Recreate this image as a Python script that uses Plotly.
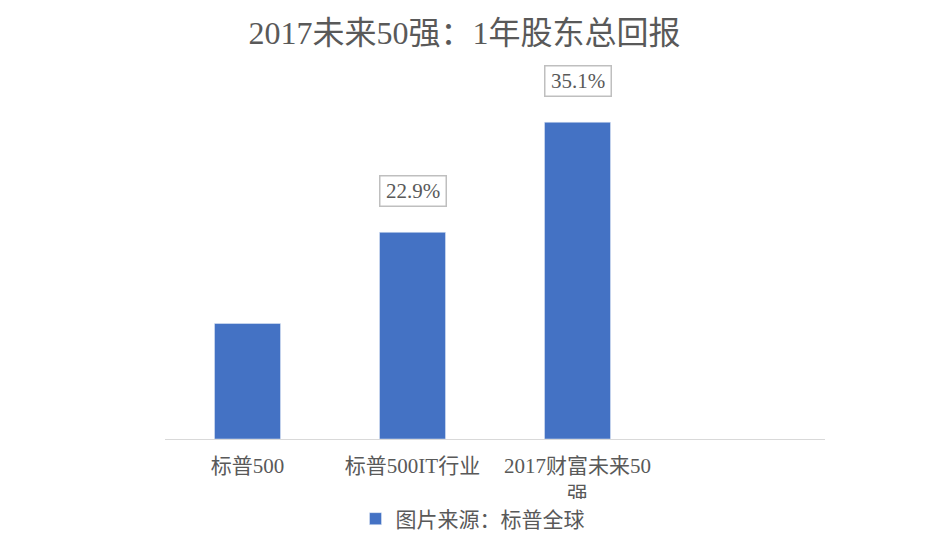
import plotly.graph_objects as go

categories = ["标普500", "标普500IT行业", "2017财富未来50<br>强"]
values = [12.8, 22.9, 35.1]
label_texts = [None, "22.9%", "35.1%"]
series_name = "图片来源：标普全球"
title_text = "2017未来50强：1年股东总回报"

FONT = "Liberation Serif, 'Noto Sans CJK SC', serif"
GRAY = "#595959"
BLUE = "#4472C4"

x_pos = list(range(len(categories)))

fig = go.Figure()
fig.add_trace(go.Bar(
    x=x_pos, y=values, name=series_name, marker_color=BLUE,
    width=0.4, showlegend=True,
))

for xi, v, t in zip(x_pos, values, label_texts):
    if t:
        fig.add_annotation(
            x=xi, y=v, xref="x", yref="y", text=t, showarrow=False,
            yshift=41, font=dict(family=FONT, size=21, color=GRAY),
            bordercolor="#BFBFBF", borderwidth=1.5, borderpad=3,
            bgcolor="white", width=59, height=23,
        )

fig.update_layout(
    width=933, height=539,
    paper_bgcolor="white", plot_bgcolor="white",
    margin=dict(l=157, r=116, t=52, b=108, autoexpand=False),
    font=dict(family=FONT, size=21, color=GRAY),
    title=dict(text=title_text, x=0.5 - 10 / 933, xanchor="center", xref="container",
               y=1 - 25 / 539, yref="container", yanchor="middle",
               font=dict(family=FONT, size=32, color=GRAY)),
    xaxis=dict(range=[-0.5, 3.5], tickvals=x_pos, ticktext=categories,
               showline=True, linecolor="#D9D9D9", linewidth=1,
               showgrid=False, zeroline=False, ticks="",
               ticklabelstandoff=8, automargin=False,
               tickfont=dict(family=FONT, size=21, color=GRAY)),
    yaxis=dict(range=[0, 42], visible=False, showgrid=False, zeroline=False,
               automargin=False),
    showlegend=True,
    legend=dict(orientation="h", xref="container", yref="container",
                x=0.5 - 2 / 933, xanchor="center", y=1 - 511 / 539, yanchor="middle",
                font=dict(family=FONT, size=21, color=GRAY)),
)

fig.write_html("out.html")
